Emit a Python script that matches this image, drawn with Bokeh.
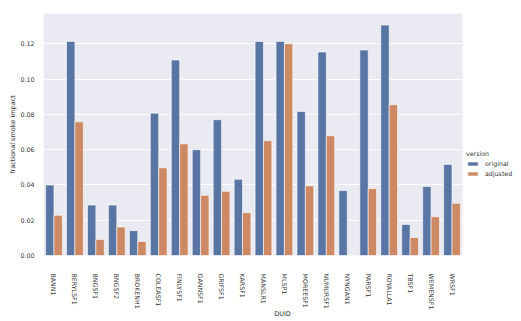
from bokeh.plotting import figure
from bokeh.models import (ColumnDataSource, Legend, LegendItem, NumeralTickFormatter,
                          FixedTicker, Range1d, BoxAnnotation)
from bokeh.embed import file_html
from bokeh.resources import INLINE

duids = ["BANN1", "BERYLSF1", "BNGSF1", "BNGSF2", "BROKENH1", "COLEASF1", "FINLYSF1",
         "GANNSF1", "GRIFSF1", "KARSF1", "MANSLR1", "MLSP1", "MOREESF1", "NUMURSF1",
         "NYNGAN1", "PARSF1", "ROYALLA1", "TBSF1", "WEMENSF1", "WRSF1"]
original = [0.0400, 0.1214, 0.0286, 0.0286, 0.0141, 0.0807, 0.1109,
            0.0600, 0.0770, 0.0432, 0.1214, 0.1214, 0.0817, 0.1154,
            0.0368, 0.1165, 0.1307, 0.0176, 0.0391, 0.0516]
adjusted = [0.0228, 0.0758, 0.0091, 0.0161, 0.0080, 0.0497, 0.0633,
            0.0341, 0.0364, 0.0243, 0.0651, 0.1201, 0.0395, 0.0679,
            0.0, 0.0380, 0.0855, 0.0102, 0.0220, 0.0296]
y_ticks = [0.0, 0.02, 0.04, 0.06, 0.08, 0.10, 0.12]

n = len(duids)
idx = list(range(n))
src = ColumnDataSource(dict(duid=duids, original=original, adjusted=adjusted,
                            x_orig=[i - 0.2 for i in idx], x_adj=[i + 0.2 for i in idx]))

FONT = "DejaVu Sans"
TXT = "#333333"

W, H = 521, 321
LEFT, AX_RIGHT = 43, 462
frame_w = W - LEFT
x_end = -0.5 + n * frame_w / (AX_RIGHT - LEFT)

p = figure(x_range=Range1d(-0.5, x_end), y_range=Range1d(0, max(original) * 1.05),
           width=W, height=H, output_backend="svg", toolbar_location=None,
           min_border_left=LEFT, min_border_right=0, min_border_top=13, min_border_bottom=55)
p.background_fill_color = "white"
p.border_fill_color = "white"
p.outline_line_color = None

axes_bg = BoxAnnotation(left=-0.5, right=n - 0.5, fill_color="#eaeaf2", fill_alpha=1,
                        line_color=None, level="image")
p.add_layout(axes_bg)

r1 = p.vbar(x="x_orig", top="original", width=0.4, source=src,
            fill_color="#5875a4", line_color="white", line_width=0.6)
r2 = p.vbar(x="x_adj", top="adjusted", width=0.4, source=src,
            fill_color="#cc8963", line_color="white", line_width=0.6)

p.xgrid.grid_line_color = None
p.ygrid.grid_line_color = "white"
p.ygrid.grid_line_width = 1
p.ygrid.ticker = FixedTicker(ticks=y_ticks)

p.yaxis.ticker = FixedTicker(ticks=y_ticks)
p.yaxis.formatter = NumeralTickFormatter(format="0.00")
p.xaxis.ticker = FixedTicker(ticks=idx)
p.xaxis.major_label_overrides = {i: d for i, d in zip(idx, duids)}
p.xaxis.bounds = (-0.5, n - 0.5)
for ax in (p.xaxis[0], p.yaxis[0]):
    ax.axis_line_color = None
    ax.major_tick_line_color = None
    ax.minor_tick_line_color = None
    ax.major_label_text_font = FONT
    ax.major_label_text_font_size = "6.3px"
    ax.major_label_text_color = TXT
    ax.axis_label_text_font = FONT
    ax.axis_label_text_font_size = "6.5px"
    ax.axis_label_text_color = TXT
    ax.axis_label_text_font_style = "normal"
p.yaxis.major_label_standoff = 3
p.xaxis.major_label_standoff = 12
p.xaxis.major_label_orientation = "vertical"
p.yaxis.axis_label = "fractional smoke impact"
p.xaxis.axis_label = "DUID"
p.yaxis.axis_label_standoff = 0
p.xaxis.axis_label_standoff = -2

legend = Legend(items=[LegendItem(label="original", renderers=[r1]),
                       LegendItem(label="adjusted", renderers=[r2])],
                location=(AX_RIGHT - LEFT + 4, 78), title="version")
legend.title_text_font = FONT
legend.title_text_font_size = "6.3px"
legend.title_text_color = TXT
legend.title_text_font_style = "normal"
legend.label_text_font = FONT
legend.label_text_font_size = "6.3px"
legend.label_text_color = TXT
legend.background_fill_alpha = 0
legend.border_line_color = None
legend.glyph_width = 13
legend.glyph_height = 5
legend.label_height = 6
legend.spacing = 3
legend.padding = 3
legend.label_standoff = 6
legend.title_standoff = 3
p.add_layout(legend, "center")

open("out.html", "w").write(file_html(p, INLINE))
